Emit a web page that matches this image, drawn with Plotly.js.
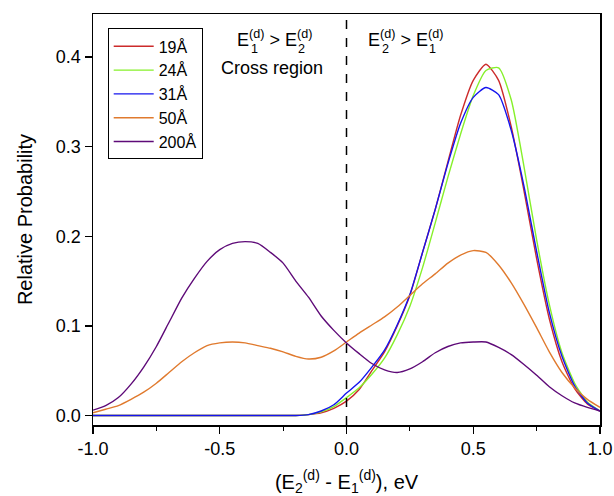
<!DOCTYPE html>
<html>
<head>
<meta charset="utf-8">
<script src="https://cdn.plot.ly/plotly-3.0.1.min.js"></script>
<style>html,body{margin:0;padding:0;background:#fff;}#chart{width:614px;height:496px;}</style>
</head>
<body>
<div id="chart"></div>
<script>
const xGrid = [-1.00,-0.95,-0.90,-0.85,-0.80,-0.75,-0.70,-0.65,-0.60,-0.55,-0.50,-0.45,-0.40,-0.35,-0.30,-0.25,-0.20,-0.15,-0.10,-0.05,0.00,0.05,0.10,0.15,0.20,0.25,0.30,0.35,0.40,0.45,0.50,0.55,0.60,0.65,0.70,0.75,0.80,0.85,0.90,0.95,1.00];

const p19 = [0,0,0,0,0,0,0,0,0,0,0,0,0,0,0,0,0,0.001,0.003,0.008,0.016,0.029,0.050,0.071,0.100,0.134,0.182,0.230,0.283,0.335,0.374,0.392,0.374,0.322,0.251,0.175,0.108,0.060,0.030,0.013,0.005];
const p24 = [0,0,0,0,0,0,0,0,0,0,0,0,0,0,0,0,0,0.001,0.004,0.010,0.020,0.031,0.046,0.064,0.090,0.122,0.165,0.215,0.266,0.314,0.357,0.385,0.388,0.352,0.278,0.196,0.124,0.070,0.036,0.015,0.005];
const p31 = [0,0,0,0,0,0,0,0,0,0,0,0,0,0,0,0,0,0.001,0.005,0.012,0.025,0.037,0.054,0.073,0.101,0.135,0.182,0.230,0.281,0.326,0.355,0.366,0.358,0.318,0.256,0.183,0.115,0.066,0.033,0.014,0.005];
const p50 = [0.003,0.007,0.011,0.018,0.026,0.036,0.048,0.060,0.070,0.078,0.081,0.082,0.081,0.078,0.075,0.071,0.066,0.063,0.065,0.072,0.082,0.092,0.101,0.110,0.121,0.134,0.147,0.158,0.170,0.179,0.184,0.182,0.168,0.148,0.124,0.098,0.071,0.048,0.031,0.018,0.009];
const p200 = [0.006,0.011,0.020,0.035,0.054,0.077,0.104,0.131,0.153,0.172,0.185,0.192,0.194,0.192,0.182,0.170,0.150,0.132,0.111,0.095,0.081,0.069,0.058,0.051,0.048,0.052,0.060,0.070,0.077,0.081,0.082,0.082,0.076,0.068,0.057,0.045,0.032,0.022,0.014,0.009,0.005];

const seriesNames = ['19Å','24Å','31Å','50Å','200Å'];
const seriesData = [p19,p24,p31,p50,p200];
const seriesColors = ['#cc2b2b','#86f02a','#1414ee','#e07a2e','#5e0a78'];

const xTickVals = [-1.0,-0.5,0.0,0.5,1.0];
const xTickText = ['-1.0','-0.5','0.0','0.5','1.0'];
const yTickVals = [0.0,0.1,0.2,0.3,0.4];
const yTickText = ['0.0','0.1','0.2','0.3','0.4'];

const FONT = 'Liberation Sans, Arial, sans-serif';

const traces = seriesNames.map((n,i)=>({
  x: xGrid, y: seriesData[i], name: n, type:'scatter', mode:'lines',
  line:{color:seriesColors[i], width:1.4, shape:'spline', smoothing:0.6}
}));

// plot area geometry for text placement
const ML = 93, MR = 14, MT = 13.5, MB = 71, W = 614, H = 496;
const PW = W - ML - MR, PH = H - MT - MB;
const px = v => (v - ML) / PW;
const py = v => (H - MB - v) / PH;

const annFont = {family:FONT, size:18, color:'#000'};
const subFont = {family:FONT, size:12.6, color:'#000'};
const mainY = py(38), subY = py(49);

const ann = (x, y, text, font, anchor) => ({xref:'paper', yref:'paper', x:x, y:y, text:text, showarrow:false, font:font, xanchor:anchor||'left', yanchor:'middle', borderpad:0});

const layout = {
  width:W, height:H,
  margin:{l:ML, r:MR, t:MT, b:MB},
  paper_bgcolor:'#fff', plot_bgcolor:'#fff',
  font:{family:FONT, size:18, color:'#000'},
  showlegend:true,
  legend:{x:0.029, y:0.965, xanchor:'left', yanchor:'top', bgcolor:'#fff', bordercolor:'#000', borderwidth:1, itemwidth:40,
    font:{family:FONT,size:16,color:'#000'}, tracegroupgap:0},
  xaxis:{range:[-1,1], tickvals:xTickVals, ticktext:xTickText, ticks:'outside', ticklen:7, tickwidth:1.3, tickcolor:'#000',
    showline:true, linecolor:'#000', linewidth:1.5, mirror:true, showgrid:false, zeroline:false,
    minor:{dtick:0.25, tick0:-1, ticks:'outside', ticklen:4, tickwidth:1.2, tickcolor:'#000', showgrid:false},
    tickfont:{family:FONT,size:18,color:'#000'},
    title:{text:'(E<sub>2</sub><sup>(d)</sup> - E<sub>1</sub><sup>(d)</sup>), eV', font:{family:FONT,size:20,color:'#000'}, standoff:21}},
  yaxis:{range:[-0.0106,0.448], tickvals:yTickVals, ticktext:yTickText, ticks:'outside', ticklen:7, tickwidth:1.3, tickcolor:'#000',
    showline:true, linecolor:'#000', linewidth:1.5, mirror:true, showgrid:false, zeroline:false,
    tickfont:{family:FONT,size:18,color:'#000'},
    title:{text:'Relative Probability', font:{family:FONT,size:20,color:'#000'}, standoff:18}},
  shapes:[{type:'line', xref:'x', yref:'paper', x0:0, x1:0, y0:0, y1:1, line:{color:'#000', width:1.5, dash:'dash'}}],
  annotations:[
    ann(px(236), mainY, 'E<sup>(d)</sup> > E<sup>(d)</sup>', annFont),
    ann(px(250), subY, '1', subFont),
    ann(px(297), subY, '2', subFont),
    ann(px(272), py(68), 'Cross region', annFont, 'center'),
    ann(px(367), mainY, 'E<sup>(d)</sup> > E<sup>(d)</sup>', annFont),
    ann(px(381), subY, '2', subFont),
    ann(px(428), subY, '1', subFont)
  ]
};

Plotly.newPlot('chart', traces, layout, {displayModeBar:false, staticPlot:true});
</script>
</body>
</html>
